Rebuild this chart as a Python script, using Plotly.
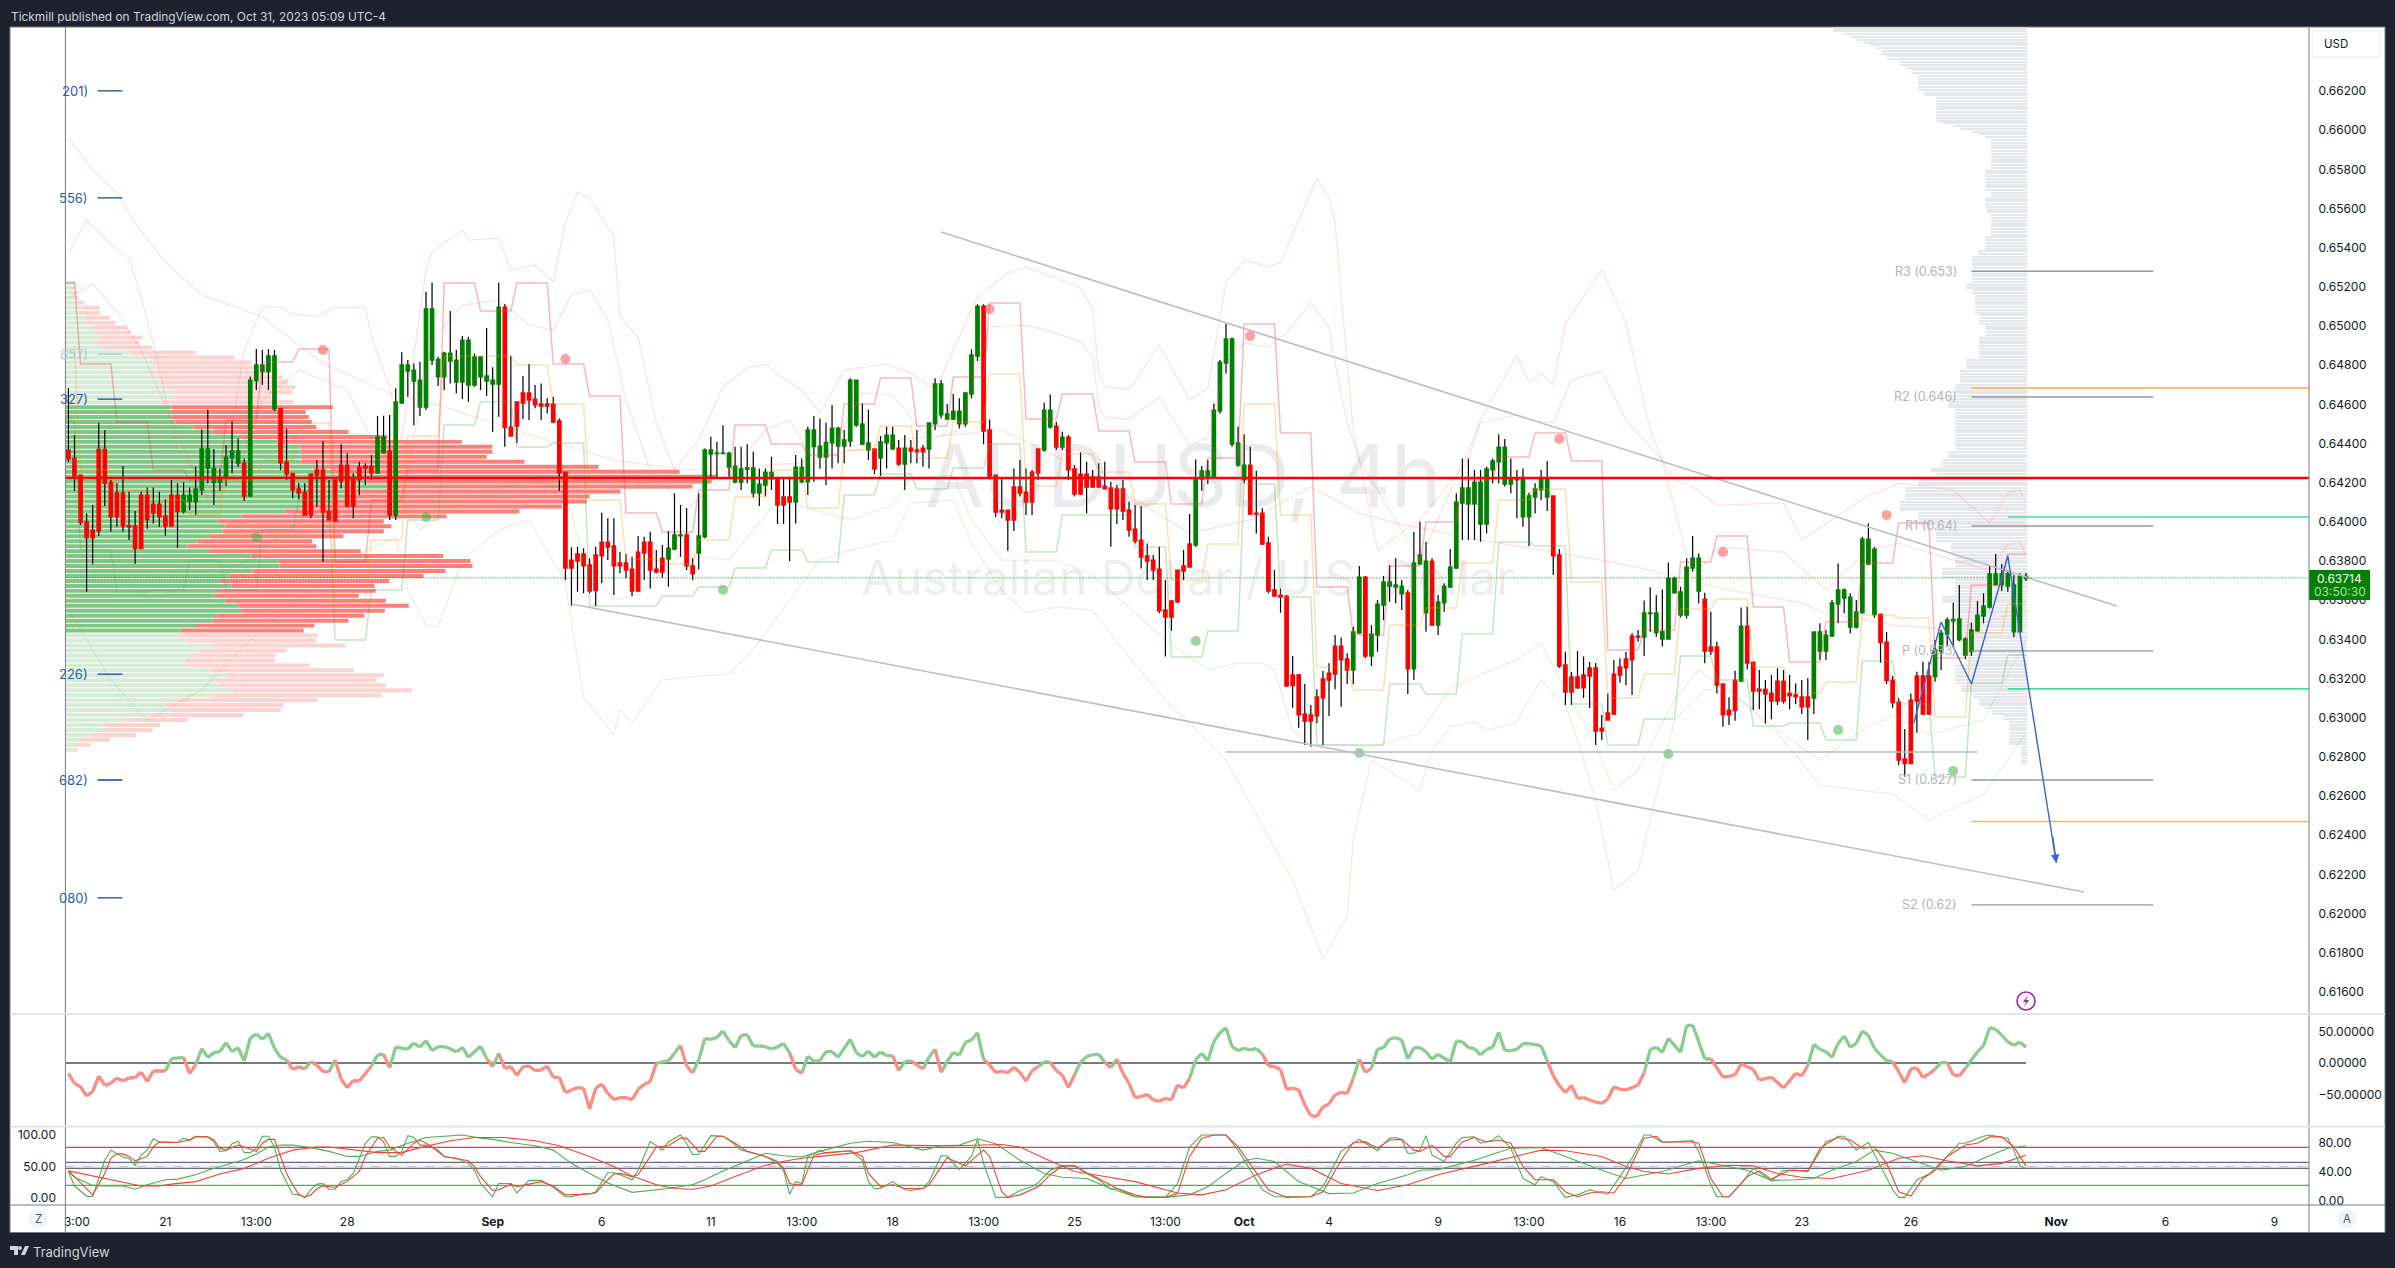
import plotly.graph_objects as go

W, H = 2395, 1268
POINT = 1e-5

# ---------------- candles, prices in points (1e-5) ----------------
candle_direction = ("r"*19 + "g"*10 + "r" + "g"*5 + "r"*16 + "g"*2 + "r" + "g"*18 + "r"*27 + "g"*3 + "r"*2 + "g"*13 + "r"*3
                    + "g"*13 + "r" + "g"*3 + "r" + "g" + "r"*3 + "g"*9 + "r"*10 + "g"*2 + "r" + "g" + "r"*21 + "g"*9 + "r"*17
                    + "g"*2 + "r" + "g"*6 + "r" + "g"*3 + "r" + "g"*19 + "r"*15 + "g"*10 + "r"*6 + "g" + "r"*11 + "g"*11 + "r"*9 + "g"*16)

body_top = [
64367,64326,64239,64000,63958,64370,64370,64200,64147,64147,
63982,63979,64137,64137,64091,64091,64030,64137,64137,64137,
64137,64168,64372,64372,64273,64226,64331,64362,64362,64300,
64724,64801,64801,64847,64847,64580,64306,64248,64168,64152,
64244,64265,64265,64055,64214,64290,64290,64222,64280,64285,
64285,64433,64433,64362,64612,64801,64801,64775,64724,65087,
65087,64830,64862,64862,64826,64928,64928,64842,64842,64745,
64724,65097,65097,64484,64612,64658,64658,64627,64602,64602,
64602,64515,64254,63805,63836,63836,63780,63831,63897,63897,
63877,63790,63790,63759,63846,63897,63897,63759,63815,63866,
63933,63933,63933,63775,63928,64367,64367,64351,64351,64351,
64285,64270,64275,64275,64193,64254,64254,64224,64127,64127,
64280,64278,64469,64469,64387,64406,64479,64479,64418,64724,
64724,64500,64403,64372,64408,64443,64443,64377,64377,64377,
64367,64377,64505,64704,64704,64551,64566,64566,64658,64852,
65102,65102,64469,64239,64060,64060,64178,64178,64152,64254,
64372,64571,64571,64489,64433,64433,64270,64244,64244,64229,
64229,64183,64173,64168,64168,64060,63963,63907,63826,63805,
63759,63550,63596,63754,63775,63887,64224,64260,64260,64571,
64816,64934,64934,64403,64290,64290,64045,64045,63892,63652,
63626,63621,63218,63218,63019,63014,63106,63198,63228,63366,
63366,63300,63438,63718,63718,63427,63580,63693,63693,63678,
63672,63637,63790,63831,63800,63800,63591,63672,63769,64101,
64173,64173,64203,64203,64270,64311,64382,64382,64224,64224,
64224,64132,64168,64224,64224,64132,63831,63269,63208,63208,
63218,63254,63254,62947,63024,63223,63259,63300,63417,63417,
63535,63535,63535,63439,63713,63713,63642,63769,63815,63815,
63606,63361,63361,63172,63039,63192,63468,63468,63284,63146,
63146,63126,63187,63187,63126,63116,63106,63106,63438,63438,
63422,63586,63652,63652,63616,63540,63912,63912,63861,63529,
63386,63192,63080,62789,63090,63213,63213,63213,63346,63432,
63499,63502,63504,63402,63448,63524,63570,63734,63734,63734,
63734,63678,63723,63723]

body_bottom = [
64321,64234,63996,63919,63919,63953,64197,64026,64026,63979,
63975,63863,63863,64011,64045,64026,63979,63979,64052,64052,
64103,64103,64163,64273,64200,64200,64224,64326,64297,64132,
64132,64721,64767,64767,64576,64302,64244,64163,64147,64035,
64035,64239,64050,64009,64004,64209,64081,64081,64214,64275,
64249,64249,64353,64035,64035,64607,64770,64719,64586,64586,
64826,64740,64740,64821,64714,64714,64699,64699,64740,64719,
64704,64704,64481,64438,64489,64607,64622,64597,64591,64591,
64510,64249,63764,63764,63800,63775,63647,63649,63826,63871,
63775,63775,63754,63647,63647,63841,63754,63744,63744,63810,
63861,63928,63775,63734,63841,63923,64346,64348,64348,64280,
64203,64203,64268,64147,64147,64188,64220,64086,64086,64101,
64101,64205,64205,64384,64331,64331,64403,64387,64387,64413,
64494,64397,64367,64270,64326,64403,64372,64295,64295,64362,
64357,64357,64372,64500,64546,64525,64525,64500,64500,64653,
64847,64464,64234,64050,64050,64009,64009,64147,64101,64101,
64249,64367,64484,64382,64382,64265,64142,64142,64178,64178,
64178,64168,64066,64066,64055,63958,63902,63820,63800,63754,
63545,63514,63514,63591,63749,63769,63882,64219,64224,64224,
64566,64811,64397,64290,64214,64040,64040,63887,63647,63621,
63616,63162,63164,63015,62983,62983,63009,63101,63192,63223,
63295,63243,63243,63432,63315,63315,63422,63575,63672,63667,
63632,63249,63249,63785,63535,63473,63473,63586,63667,63764,
64096,64091,64091,63989,63989,64265,64306,64193,64193,64214,
64025,64025,64127,64163,64127,63826,63264,63131,63131,63152,
63152,63213,62932,62932,62988,63019,63218,63254,63295,63412,
63412,63531,63434,63402,63402,63637,63524,63524,63764,63647,
63340,63340,63167,63015,63015,63036,63187,63279,63136,63136,
63121,63085,63085,63085,63111,63106,63055,63055,63100,63340,
63340,63417,63580,63611,63463,63463,63535,63785,63526,63383,
63189,63077,62784,62765,62765,63085,63019,63019,63208,63340,
63427,63495,63397,63320,63337,63443,63519,63565,63678,63678,
63672,63438,63438,63710]

wick_high = [
64682,64443,64239,64043,64086,64506,64469,64214,64197,64285,
64154,64055,64154,64176,64176,64154,64115,64214,64197,64202,
64176,64282,64472,64574,64372,64273,64392,64513,64426,64324,
64741,64883,64877,64881,64877,64580,64477,64248,64197,64197,
64244,64316,64413,64214,64214,64396,64350,64248,64307,64299,
64341,64540,64542,64546,64682,64866,64826,64809,64818,65175,
65221,64843,64869,65077,64877,64949,64945,64860,64843,64990,
64789,65221,65112,64847,64614,64745,64806,64699,64707,64631,
64639,64528,64254,63870,63873,63865,63814,63873,64047,64018,
64018,63848,63836,63822,63928,63924,63950,63856,63882,63953,
64146,64086,64069,63814,64146,64375,64435,64409,64494,64358,
64384,64384,64396,64358,64273,64273,64333,64231,64231,64231,
64341,64324,64486,64540,64528,64506,64597,64486,64469,64733,
64724,64605,64574,64372,64438,64486,64486,64418,64443,64418,
64469,64392,64505,64733,64724,64602,64653,64631,64660,64881,
65111,65111,64523,64239,64222,64060,64273,64316,64273,64265,
64372,64608,64651,64511,64460,64443,64290,64355,64307,64265,
64299,64307,64205,64188,64214,64103,64086,64081,63890,63831,
63873,63703,63601,63754,63856,64040,64319,64285,64316,64605,
64826,65010,64942,64486,64447,64384,64261,64069,63924,63754,
63660,63626,63315,63223,63172,63065,63145,63238,63278,63422,
63410,63329,63465,63775,63723,63473,63601,63723,63780,63814,
63703,63652,63948,64001,63899,63814,63626,63686,63861,64146,
64324,64324,64265,64265,64282,64324,64448,64423,64324,64265,
64273,64149,64197,64265,64311,64132,63861,63337,63233,63340,
63312,63284,63279,63014,63124,63295,63303,63337,63431,63448,
63598,63666,63626,63655,63793,63720,63669,63814,63928,63839,
63638,63541,63388,63172,63104,63240,63563,63567,63284,63243,
63192,63218,63252,63243,63218,63175,63192,63201,63438,63482,
63448,63601,63788,63660,63635,63601,63924,63992,63873,63529,
63438,63213,63099,62942,63124,63235,63286,63286,63397,63448,
63512,63587,63677,63410,63485,63596,63635,63780,63836,63785,
63754,63729,63737,63739]

wick_low = [
64307,64159,63984,63643,63783,63928,64081,63950,63975,63950,
63907,63785,63861,63965,63992,63975,63929,63979,63868,64043,
64060,64035,64137,64197,64086,64159,64183,64248,64282,64108,
64129,64673,64699,64673,64566,64265,64214,64120,64115,64035,
64018,64077,63797,64009,64001,64171,64077,64018,64137,64188,
64214,64248,64350,64009,64009,64605,64639,64494,64540,64571,
64801,64694,64673,64707,64656,64627,64614,64690,64673,64643,
64460,64537,64384,64438,64401,64525,64520,64580,64520,64554,
64503,64157,63703,63570,63643,63635,63635,63570,63686,63805,
63626,63737,63712,63621,63643,63703,63660,63737,63715,63669,
63856,63822,63754,63703,63757,63916,64231,64231,64350,64231,
64197,64163,64197,64125,64081,64129,64163,63989,63989,63800,
63992,64197,64137,64205,64272,64188,64273,64299,64299,64384,
64486,64392,64316,64244,64234,64273,64372,64285,64163,64299,
64299,64282,64273,64469,64528,64523,64520,64477,64486,64631,
64821,64397,64217,64023,64018,63853,63953,64129,64035,64035,
64214,64358,64477,64367,64367,64214,64129,64137,64043,64176,
64176,64166,63873,63989,64009,63924,63890,63762,63703,63703,
63533,63312,63444,63584,63703,63768,63873,64159,64193,64222,
64554,64758,64384,64282,64197,64035,63941,63882,63635,63618,
63536,63158,63051,62949,62861,62852,62971,62861,63009,63145,
63056,63172,63172,63431,63305,63264,63337,63499,63592,63584,
63550,63121,63192,63785,63439,63468,63422,63541,63666,63762,
63907,63907,63907,63899,63941,64197,64197,64180,64146,64018,
63975,63877,64043,64111,64055,63729,63254,63065,63065,63148,
63101,63049,62861,62886,62988,63014,63179,63167,63116,63388,
63315,63439,63414,63363,63400,63635,63512,63507,63746,63584,
63278,63320,63124,62954,62963,62985,63182,63247,63039,63043,
62971,62992,63065,63073,63043,63070,63019,62886,63019,63295,
63295,63414,63482,63533,63431,63456,63533,63780,63511,63281,
63172,63051,62757,62699,62763,62923,63014,63014,63184,63243,
63363,63363,63391,63298,63315,63439,63482,63558,63678,63647,
63643,63412,63438,63698]

# ---------------- daily levels ----------------
level_start = list(range(-4, 321, 6))
level_high = [65220,64806,64510,64265,64214,64520,64816,64883,63795,64112,64265,65220,65077,65220,64806,64643,64045,63948,64163,64495,64398,64341,64602,64735,64489,64740,65118,64525,64653,64464,64306,64091,64326,65010,64454,63667,63422,63775,63999,64214,64331,64454,64311,63346,63448,63795,63928,63565,63284,63489,63790,63994,63305,63678,63836]
level_mid = [64878,64265,64163,64112,64040,64214,64316,64505,63601,63907,64438,64847,64847,64801,64602,64112,63810,63785,63907,64127,64265,64071,64367,64489,64326,64510,64755,64183,64347,64255,64091,63703,63887,64602,64035,63259,63142,63473,63560,63790,64112,64168,63693,63101,63223,63555,63606,63259,63126,63182,63524,63509,63004,63433,63581]
level_low = [64520,63856,63642,63652,63805,63652,63958,64112,63397,63652,64010,64495,64612,64382,64403,63570,63570,63621,63667,63764,63856,63795,64137,64244,64168,64275,64398,63846,64035,64035,63872,63310,63443,64193,63616,62861,62861,63172,63121,63427,63897,63877,63070,62861,62993,63315,63193,62958,62973,62886,63290,63070,62697,63177,63320]

# ---------------- bands ----------------
band1_bar = [0,3,8,10,12,14,18,25,29,32,35,37,41,44,49,50,53,55,59,60,65,66,71,73,77,80,82,84,86,90,91,94,97,100,104,108,112,115,118,121,124,128,135,139,143,150,155,158,163,167,169,170,171,175,180,185,188,191,194,198,200,206,208,209,211,212,216,223,231,233,239,241,243,245,247,253,257,261,263,265,268,272,283,286,296,302,311,317,320,322,323]
band1_pts = [65373,65541,65388,65347,65148,64913,64367,64112,64878,65097,65097,65061,65051,65097,65092,64944,64689,64418,65286,65378,65490,65439,65449,65286,65312,65225,65526,65684,65654,65455,65046,64944,64505,64265,64418,64689,64786,64806,64735,64673,64556,64775,64806,64760,64673,65148,65271,65301,65245,65194,65082,64760,64689,64678,64903,64622,64684,65220,65337,65301,65327,65756,65654,65526,64811,64469,63856,64010,64316,64520,64852,64714,64760,64699,65015,65286,65015,64469,64316,64214,64178,64086,64096,63907,64117,64198,64163,63994,64148,64163,64096]
band2_bar = [0,4,8,12,17,23,28,32,38,46,51,56,60,65,71,76,80,83,86,89,92,96,102,111,115,119,124,131,136,142,147,152,158,163,167,169,170,171,175,180,185,188,191,194,198,201,205,208,209,211,213,223,233,239,241,245,248,253,257,263,268,272,283,290,297,302,311,317,320,322,323]
band2_pts = [65143,65215,65072,64878,64520,64112,64265,64622,64775,64673,64367,64265,64929,65107,65133,65005,64980,65158,65184,65031,64622,64265,64061,64316,64469,64520,64265,64658,64648,64418,64469,64995,65005,64964,64918,64842,64587,64535,64525,64638,64392,64433,64811,64913,64893,64964,65118,64995,64811,64505,64316,63805,64505,64546,64520,64505,64724,64770,64520,64316,63703,63872,63846,63652,63856,63892,63805,63754,63882,63897,63831]
basis_bar = [0,4,8,11,16,22,32,42,53,61,79,90,102,121,137,154,170,185,195,205,213,219,233,253,261,274,286,290,301,312,323]
basis_pts = [65960,65797,65679,65526,65327,65158,65046,64811,64658,64597,64418,64316,64265,64301,64418,64469,64229,63943,64010,64178,64045,63994,63907,63805,63754,63652,63586,63535,63473,63448,63550]
band3_bar = [0,7,13,22,30,38,46,54,58,65,76,82,85,90,94,101,109,117,123,129,136,139,146,149,154,163,169,181,188,193,197,199,202,205,211,215,223,228,232,234,239,243,247,252,255,259,265,269,276,282,289,296,301,307,316,323]
band3_pts = [64010,63805,63601,63703,63805,64010,64112,64163,63958,64112,64214,64163,63805,63601,63627,63831,63805,64112,64061,64010,64086,64224,64239,64010,63805,63805,63729,63397,63244,63279,63279,63244,62937,62861,62861,62850,62922,63152,63203,63234,63295,63382,63142,62861,62631,62733,63090,63244,63090,62937,62784,62937,63014,62912,62988,63397]
band4_bar = [0,7,13,22,30,38,46,54,56,59,61,65,71,76,82,85,90,91,93,98,104,109,113,119,124,129,136,139,146,149,154,158,163,169,174,181,191,202,207,211,212,215,223,225,228,232,234,239,240,243,247,249,252,255,259,265,270,274,283,289,301,307,316,323]
band4_pts = [63550,63193,62988,63142,63397,63601,63805,63923,63652,63473,63463,63805,63958,64010,63688,63106,62912,63039,62978,63193,63213,63223,63346,63601,63805,63856,63907,64096,64112,63892,63652,63535,63565,63550,63346,63090,62784,62171,61768,61988,62376,62784,62631,62835,62953,62978,62937,62978,63039,63193,63065,62886,62580,62120,62222,62988,63142,63142,62886,62656,62610,62478,62610,62922]

# ---------------- markers ----------------
dot_red_bar = [42,82,152,195,246,300,273]
dot_red_pts = [64878,64832,65087,64949,64423,64035,63846]
dot_green_bar = [31,59,108,186,213,264,292,311]
dot_green_pts = [63923,64025,63652,63392,62820,62815,62937,62728]

# ---------------- volume profile, left (arbitrary volume units) ----------------
profile_up = [16,19,21,23,21,31,26,36,39,56,57,66,58,73,126,161,172,178,168,181,187,196,214,214,187,
208,207,208,216,251,288,344,416,461,461,461,461,484,521,571,591,631,571,551,521,481,431,345,298,314,308,281,259,239,281,365,417,420,367,320,303,326,301,291,312,339,345,296,288,258,226,
223,238,289,261,246,233,243,284,315,294,300,327,288,218,193,204,163,116,76,73,53,27,23,16]
profile_down = [2,2,2,3,15,36,41,51,59,66,71,85,87,96,129,171,193,193,233,245,250,255,231,189,260,
316,264,269,267,241,267,287,361,376,376,365,439,561,683,708,676,598,517,476,501,492,459,402,326,325,316,264,225,253,298,376,377,378,378,382,332,280,307,284,316,334,281,290,267,230,241,
271,254,260,173,166,177,236,281,309,316,328,352,332,276,235,218,186,123,109,98,85,60,26,8]
PROFILE_TOP = 0.65220
PROFILE_STEP = 0.0002536
VALUE_AREA = range(25, 71)

# ---------------- volume profile, right ----------------
profile_visible = [194,194,183,176,170,164,158,152,146,146,140,140,127,127,121,115,115,109,109,109,109,109,109,103,103,91,91,
91,91,91,91,91,91,91,85,74,67,55,49,42,36,36,36,36,36,36,36,36,36,36,36,42,42,42,42,42,42,42,42,36,36,42,42,42,42,40,40,36,
36,36,36,36,36,36,36,42,42,42,42,42,49,49,55,55,55,55,55,55,55,55,55,55,61,61,55,55,52,52,52,52,52,52,52,48,48,48,48,42,42,42,42,48,48,48,48,48,48,48,48,
61,61,61,61,67,67,67,67,67,72,72,72,72,79,79,79,79,79,72,72,72,72,72,72,72,72,72,72,72,72,72,72,72,79,79,79,85,85,85,96,96,90,90,109,109,109,
122,122,122,122,122,127,127,127,127,109,109,109,109,109,91,91,91,91,91,91,76,76,76,76,76,72,72,72,72,85,85,85,85,72,72,72,72,72,72,85,85,85,
72,72,72,72,72,72,72,72,66,66,66,66,66,66,66,66,66,66,66,60,60,60,72,72,72,72,72,72,72,66,66,66,54,54,48,48,48,42,35,35,24,24,
18,18,18,18,18,18,18,18,18,6,6,6,6,6,6,6]
VISIBLE_TOP = 0.66520
VISIBLE_STEP = 0.0001422

# ---------------- CCI ----------------
cci_bar = [0,1,2,3,4,5,6,7,8,9,10,11,12,13,14,16,17,19,20,21,22,23,24,25,26,27,28,29,30,31,32,33,34,35,36,37,38,39,40,41,42,43,44,45,46,47,48,50,51,52,53,54,56,57,58,59,60,61,62,63,64,65,66,68,69,70,71,72,73,74,75,76,77,78,79,80,81,82,83,84,85,86,87,88,89,90,91,92,93,94,95,96,97,99,100,101,102,103,104,105,106,107,108,109,110,111,112,113,114,115,116,117,118,119,120,
121,122,123,124,125,126,127,129,130,131,132,133,134,135,136,137,138,139,141,142,143,144,145,146,147,148,149,150,151,152,153,154,155,156,157,158,159,160,161,162,163,164,165,166,167,168,169,170,171,172,173,174,175,176,177,178,179,180,181,182,183,184,185,186,187,188,189,190,191,192,193,194,195,196,197,198,199,200,201,202,203,204,205,206,207,208,209,210,211,212,213,214,215,216,217,218,219,220,221,222,223,224,225,226,228,229,230,231,232,233,234,235,236,237,238,239,240,241,242,243,244,245,246,247,248,249,250,251,252,
253,254,255,256,257,258,259,260,261,262,263,264,266,267,268,269,270,271,273,274,275,276,277,278,279,280,281,283,285,286,287,288,289,290,291,292,293,294,295,296,297,298,299,300,301,302,303,304,305,306,307,308,309,310,311,312,313,314,315,316,317,318,319,320,321,322,323]
cci_value = [-16.4,-32.3,-37.6,-52.4,-45.5,-20.6,-35.4,-32.3,-23.8,-28.6,-23.8,-23.3,-14.3,-29.6,-12.7,-12.7,6.9,9.0,-16.9,-2.6,22.7,9.0,16.4,18.0,32.3,18.0,24.3,3.2,39.7,46.0,37.6,47.1,23.3,9.0,4.8,-10.1,-5.8,-9.5,2.1,-3.2,-13.8,-13.8,4.8,-25.9,-39.1,-28.0,-28.6,-4.8,12.7,13.8,-7.4,25.4,22.2,31.7,25.4,35.4,19.6,25.9,25.9,22.7,17.5,24.9,9.0,26.5,7.4,-5.8,15.3,-8.5,-5.8,-19.6,-5.8,-4.8,-12.2,-11.1,-4.8,-22.7,-22.7,-47.1,-42.8,-39.1,-40.2,-73.0,-40.2,-33.3,-48.1,-58.2,-55.0,-55.0,-58.2,-41.8,-33.9,-29.6,-0.5,3.7,15.3,28.0,-4.8,-15.9,4.8,38.6,37.6,40.7,50.8,35.4,24.3,43.9,45.0,27.0,27.0,25.9,22.2,25.4,31.2,16.4,-10.1,
-16.4,11.1,2.6,3.7,18.0,18.0,9.0,37.6,16.4,10.1,19.0,9.0,17.5,11.6,11.6,-12.2,2.1,3.2,-9.5,9.0,21.7,-14.8,2.6,16.9,12.2,32.8,36.5,48.1,5.8,-3.2,-15.3,-12.7,-15.3,-6.9,-14.8,-28.6,-12.2,-5.8,2.1,1.1,-12.2,-19.0,-39.1,-19.0,1.1,10.1,13.2,13.8,1.1,-7.4,6.3,-16.4,-32.3,-55.0,-53.4,-49.7,-58.7,-60.8,-56.1,-58.7,-34.9,-39.7,-24.3,4.8,15.3,3.7,33.9,48.1,56.1,25.9,19.6,23.3,20.6,23.3,14.3,-4.2,-5.8,-10.1,-41.8,-39.7,-42.8,-66.7,-83.6,-85.2,-69.3,-65.0,-50.3,-46.6,-48.1,-24.3,5.8,-14.8,-8.5,22.2,24.3,38.1,40.2,36.5,6.3,24.3,24.3,18.0,5.8,13.8,1.6,34.9,33.9,24.3,22.7,12.7,21.7,24.9,48.7,19.6,19.6,21.7,30.7,30.7,29.1,27.0,3.2,-20.1,-36.0,-47.1,-35.4,-56.1,-55.0,-58.7,-61.9,
-64.0,-57.1,-37.6,-41.8,-42.8,-39.1,-34.9,-15.3,21.7,24.9,16.9,39.1,16.9,59.2,60.3,33.9,6.3,6.9,-22.2,-21.2,-18.5,-1.6,-5.8,-10.1,-27.0,-24.9,-22.2,-39.7,-16.4,-20.6,-4.2,29.6,21.7,18.0,9.0,31.2,42.8,24.9,31.2,50.8,43.9,23.3,12.7,3.7,2.1,-13.8,-31.2,-9.5,-7.9,-22.7,-17.5,-9.5,0.5,0.5,-19.0,-20.6,-8.5,4.8,18.0,27.5,56.1,53.4,44.4,33.3,28.0,33.3,24.9]

# ---------------- stochastic RSI pairs ----------------
fast_k_bar = [0,1,3,4,6,7,9,10,11,12,13,14,15,17,18,19,20,21,23,24,25,26,27,28,29,30,31,32,33,34,35,37,38,39,40,41,42,43,44,45,46,47,49,50,51,52,53,54,55,56,57,58,59,61,62,64,66,67,68,70,71,73,74,76,78,80,82,83,85,86,87,89,90,91,93,94,96,98,99,101,102,103,104,106,108,109,111,112,115,117,118,119,120,
121,122,124,125,129,131,132,133,134,136,138,139,141,142,144,145,146,147,149,150,151,153,155,157,159,160,162,164,166,168,170,172,173,176,181,183,185,187,191,193,197,199,205,207,210,213,216,218,219,220,221,222,223,224,225,227,229,230,232,233,235,236,238,240,242,243,245,247,249,251,
253,254,256,258,260,261,263,265,268,269,271,272,274,276,278,280,281,283,285,287,289,291,292,293,295,297,299,301,302,303,305,307,310,312,313,316,317,320,321,322,323]
fast_k = [42,19,3,2,60,76,65,63,52,68,76,94,89,88,88,95,92,98,97,89,74,75,86,90,72,72,79,98,98,81,44,6,5,1,13,22,23,14,14,26,29,39,87,97,97,89,66,66,74,99,96,84,84,76,66,63,55,44,23,2,23,23,8,28,28,17,2,2,7,6,10,40,40,37,29,44,90,76,89,100,87,69,69,99,98,92,76,74,66,55,44,6,26,
23,66,76,71,75,60,26,15,15,26,13,12,15,26,67,67,55,45,66,93,55,1,1,12,18,24,44,51,51,39,29,14,15,2,1,23,81,100,100,76,13,2,2,18,74,93,75,95,96,93,71,71,76,99,68,58,87,96,97,87,92,99,79,31,21,34,26,1,5,13,
8,6,34,63,100,100,88,89,91,74,21,2,2,23,47,34,27,44,44,42,79,91,98,98,76,88,50,13,1,1,29,38,66,87,87,98,100,95,76,51,47]
fast_d_bar = [0,1,4,6,7,8,9,10,11,13,14,15,18,20,21,23,24,25,26,28,29,31,32,33,34,35,36,37,38,39,40,41,42,44,46,48,49,51,52,53,55,57,58,59,60,62,64,66,67,68,70,71,73,74,76,78,80,82,85,87,89,90,91,93,94,96,97,99,101,102,104,105,107,108,110,112,115,117,118,119,120,
121,123,125,129,131,132,134,136,138,141,142,144,145,147,148,150,151,152,154,155,157,160,162,164,166,168,170,173,176,178,181,183,185,187,189,191,193,198,201,205,207,210,212,214,216,218,220,222,223,225,227,228,230,232,234,236,238,240,242,245,247,249,251,
253,255,257,259,260,262,263,268,269,271,273,274,277,279,281,284,287,290,292,294,296,298,300,302,304,306,308,310,313,315,317,319,321,323]
fast_d = [43,34,5,39,63,70,70,66,59,66,81,89,88,92,97,97,92,79,76,84,81,74,87,93,93,66,39,21,6,1,5,15,19,17,26,42,66,95,96,81,68,87,92,87,81,66,63,59,50,34,12,13,22,18,22,26,19,5,6,8,29,38,39,34,37,66,81,83,95,95,74,74,98,98,87,74,66,58,47,23,21,
21,68,72,75,66,39,18,21,15,15,21,50,64,55,51,68,76,66,10,1,5,18,37,51,51,40,31,15,5,1,1,7,66,95,100,100,81,13,1,2,10,60,88,89,79,92,93,76,74,84,66,66,89,96,89,92,87,50,29,29,10,2,8,
10,8,34,74,95,98,89,89,87,31,2,2,34,43,30,44,43,89,96,92,79,81,55,10,3,31,44,66,84,87,97,97,81,51]
slow_k_bar = [0,1,4,6,9,11,13,16,18,21,23,26,29,31,33,35,37,40,43,46,48,51,53,56,59,62,65,68,70,73,77,80,83,86,89,93,96,99,103,105,108,111,115,118,
121,124,129,132,136,141,144,147,150,153,157,161,164,168,172,176,181,185,188,191,194,196,199,203,208,212,216,221,223,226,232,238,243,247,
253,257,263,269,273,277,281,285,288,291,295,298,301,305,309,313,316,320,323]
slow_k = [42,33,20,19,19,14,21,29,30,37,44,52,61,70,81,84,84,80,74,66,66,74,76,87,96,98,100,95,93,88,83,76,55,39,24,9,12,15,21,29,43,55,71,67,
65,74,87,90,88,76,83,84,94,86,60,39,33,31,15,2,1,5,18,39,59,63,58,26,7,8,23,37,44,45,60,79,80,66,
44,31,42,59,51,44,28,29,31,44,58,76,71,58,44,50,63,79,83]
slow_d_bar = [0,2,6,9,12,15,17,21,25,29,33,37,41,43,48,51,55,58,63,67,72,77,81,86,90,93,97,100,103,106,110,115,119,
121,126,130,136,141,146,154,157,161,166,171,176,183,187,191,196,201,205,210,216,221,226,234,243,247,
253,257,260,264,269,274,278,282,286,291,297,302,306,310,315,319,323]
slow_d = [43,39,31,24,19,19,22,26,38,47,63,76,81,81,76,72,72,80,91,96,96,91,83,66,50,35,21,15,14,19,34,52,60,
63,68,72,84,83,83,85,81,63,42,34,26,8,5,13,37,54,47,23,12,21,37,55,76,75,
66,50,42,38,47,52,51,39,33,31,44,63,67,59,51,55,68]

# ---------------- levels and drawings ----------------
overbought, mid_upper, mid_line, mid_lower, oversold = 80.4, 56.6, 50, 47, 20
profile_level = 0.64224
last_price = 0.63714
level_label_names = ["R3 (0.653)", "R2 (0.646)", "R1 (0.64)", "P (0.633)", "S1 (0.627)", "S2 (0.62)"]
level_label_prices = [0.65280, 0.64638, 0.63979, 0.63341, 0.62682, 0.62044]
orange_levels = [0.64684, 0.62470]
teal_levels = [0.64025, 0.63147]
fib_texts = ["201)", "556)", "857)", "327)", "226)", "682)", "080)"]
fib_prices = [0.66201, 0.65654, 0.64857, 0.64627, 0.63223, 0.62682, 0.62080]
upper_trend_bar, upper_trend = [144, 338], [0.65480, 0.63570]
lower_trend_bar, lower_trend = [83, 332.6], [0.63581, 0.62110]
flat_line_bar, flat_line = [191, 315], [0.62825, 0.62825]
zigzag_bar = [304.5, 309, 314, 320, 328]
zigzag = [0.62973, 0.63489, 0.63172, 0.63826, 0.62258]

price_ticks = [0.616 + 0.002 * i for i in range(24)]
time_tick_bar = [1.4,16,31,46,70,88,106,121,136,151,166,181,194,208,226,241,256,271,286,304,328,346,364]
time_tick_text = ["3:00","21","13:00","28","<b>Sep</b>","6","11","13:00","18","13:00","25","13:00","<b>Oct</b>","4","9","13:00","16","13:00","23","26","<b>Nov</b>","6","9"]

# ---------------- build ----------------
n = len(candle_direction)
bars = list(range(n))
open_ = [(t if d == "r" else b) * POINT for t, b, d in zip(body_top, body_bottom, candle_direction)]
close = [(b if d == "r" else t) * POINT for t, b, d in zip(body_top, body_bottom, candle_direction)]
high = [v * POINT for v in wick_high]
low = [v * POINT for v in wick_low]
body_mid = [(a + b) / 2 for a, b in zip(open_, close)]
FONT = "Inter, Roboto, sans-serif"
RIGHT_END = 369.7

fig = go.Figure()
# left profile
rows = [PROFILE_TOP - i * PROFILE_STEP for i in range(len(profile_up))]
VOL = 1 / 11.88
strong = [i in VALUE_AREA for i in range(len(rows))]
fig.add_trace(go.Bar(orientation="h", y=rows, x=[v * VOL for v in profile_up], base=-0.5, width=PROFILE_STEP * 0.8,
                     marker=dict(color=["#81c784" if s else "#d6ecd7" for s in strong], line_width=0), hoverinfo="skip"))
fig.add_trace(go.Bar(orientation="h", y=rows, x=[v * VOL for v in profile_down], base=[-0.5 + v * VOL for v in profile_up], width=PROFILE_STEP * 0.8,
                     marker=dict(color=["#fb8078" if s else "#fdd3d0" for s in strong], line_width=0), hoverinfo="skip"))
# right profile
vrows = [VISIBLE_TOP - i * VISIBLE_STEP for i in range(len(profile_visible))]
fig.add_trace(go.Bar(orientation="h", y=vrows, x=[v / 6.06 for v in profile_visible], base=[323.2 - v / 6.06 for v in profile_visible],
                     width=VISIBLE_STEP * 0.55, marker=dict(color="#e6e7ea", line_width=0), hoverinfo="skip"))
# wicks (box collapsed to a point inside the body), then bodies on top
fig.add_trace(go.Candlestick(x=bars, open=body_mid, high=high, low=low, close=body_mid, hoverinfo="skip", whiskerwidth=0,
                             increasing=dict(line=dict(color="#000000", width=1.2), fillcolor="#000000"),
                             decreasing=dict(line=dict(color="#000000", width=1.2), fillcolor="#000000")))
fig.add_trace(go.Candlestick(x=bars, open=open_, close=close, high=[max(a, b) for a, b in zip(open_, close)], low=[min(a, b) for a, b in zip(open_, close)],
                             hoverinfo="skip", whiskerwidth=0,
                             increasing=dict(line=dict(color="#008000", width=1.3), fillcolor="#008000"),
                             decreasing=dict(line=dict(color="#ff0000", width=1.3), fillcolor="#ff0000")))

def line(x, y, color, width=1, dash=None, xa="x", ya="y"):
    fig.add_trace(go.Scatter(x=x, y=y, mode="lines", xaxis=xa, yaxis=ya, hoverinfo="skip",
                             line=dict(color=color, width=width, dash=dash), connectgaps=False))

BAND_RED = "rgba(255,82,82,0.18)"
BAND_GREEN = "rgba(76,175,80,0.16)"
for b, p, c in [(band1_bar, band1_pts, BAND_RED), (band2_bar, band2_pts, BAND_RED), (basis_bar, basis_pts, BAND_RED),
                (band3_bar, band3_pts, BAND_GREEN), (band4_bar, band4_pts, BAND_GREEN)]:
    line(b, [v * POINT for v in p], c, 1.2)

def steps(levels):
    xs, ys = [], []
    for s, l in zip(level_start, levels):
        xs += [max(s, -0.5), min(s + 5, 323)]
        ys += [l * POINT, l * POINT]
    return xs, ys

for lv, c in [(level_high, "rgba(242,54,69,0.35)"), (level_mid, "rgba(255,152,0,0.3)"), (level_low, "rgba(76,175,80,0.32)")]:
    xs, ys = steps(lv)
    line(xs, ys, c, 1.5)

fig.add_trace(go.Scatter(x=dot_red_bar, y=[v * POINT for v in dot_red_pts], mode="markers", hoverinfo="skip",
                         marker=dict(color="rgba(255,82,82,0.55)", size=10, line_width=0)))
fig.add_trace(go.Scatter(x=dot_green_bar, y=[v * POINT for v in dot_green_pts], mode="markers", hoverinfo="skip",
                         marker=dict(color="rgba(76,175,80,0.55)", size=10, line_width=0)))

line(upper_trend_bar, upper_trend, "#bcbdc6", 1.6)
line(lower_trend_bar, lower_trend, "#bcbdc6", 1.6)
line(flat_line_bar, flat_line, "#b8b9c0", 1.4)
line([-0.5, RIGHT_END], [last_price, last_price], "#008000", 1, "1px,2px")
line([-0.5, RIGHT_END], [profile_level, profile_level], "#ff0000", 2.6)
for v in orange_levels:
    line([314, RIGHT_END], [v, v], "#ffb74d", 1.6)
for v in teal_levels:
    line([320, RIGHT_END], [v, v], "#3fe09c", 1.6)
for v in level_label_prices:
    line([314, 344], [v, v], "#9598a1", 1.4)
for v, t in zip(fib_prices, fib_texts):
    line([4.8, 8.9], [v, v], "#a9c6d6" if t == "857)" else "#0d47a1", 1.3)
line(zigzag_bar, zigzag, "#3a62d6", 1.4)

# CCI
gx, gy, rx, ry = [], [], [], []
for i in range(len(cci_bar) - 1):
    seg_x = [cci_bar[i], cci_bar[i + 1], None]
    seg_y = [cci_value[i], cci_value[i + 1], None]
    if cci_value[i + 1] >= 0:
        gx += seg_x; gy += seg_y
    else:
        rx += seg_x; ry += seg_y
line([-0.5, 323], [0, 0], "#787b86", 2, xa="x2", ya="y2")
line(gx, gy, "#89cc8f", 3.3, xa="x2", ya="y2")
line(rx, ry, "#fc8d85", 3.3, xa="x2", ya="y2")

# stochastic
fig.add_trace(go.Scatter(x=[-0.5, RIGHT_END, RIGHT_END, -0.5], y=[mid_lower, mid_lower, mid_upper, mid_upper], fill="toself", mode="none",
                         fillcolor="#f3f2fa", xaxis="x3", yaxis="y3", hoverinfo="skip"))
line([-0.5, RIGHT_END], [overbought] * 2, "#f23645", 1.2, xa="x3", ya="y3")
line([-0.5, RIGHT_END], [oversold] * 2, "#4caf50", 1.2, xa="x3", ya="y3")
line([-0.5, RIGHT_END], [mid_upper] * 2, "#6a6d78", 1.3, xa="x3", ya="y3")
line([-0.5, RIGHT_END], [mid_lower] * 2, "#6a6d78", 1.3, xa="x3", ya="y3")
line([-0.5, RIGHT_END], [mid_line] * 2, "#c3c5cc", 1, "dash", xa="x3", ya="y3")
line(slow_k_bar, slow_k, "#4caf50", 1.1, xa="x3", ya="y3")
line(slow_d_bar, slow_d, "#f44336", 1.1, xa="x3", ya="y3")
line(fast_k_bar, fast_k, "#4caf50", 1.1, xa="x3", ya="y3")
line(fast_d_bar, fast_d, "#f44336", 1.1, xa="x3", ya="y3")
fig.add_trace(go.Scatter(x=[0, 0, 0], y=[0, 40, 80], mode="lines", line=dict(color="rgba(0,0,0,0)"), xaxis="x3", yaxis="y4", hoverinfo="skip"))

def px(x): return x / W
def py(y): return 1 - y / H

tick_font = dict(family=FONT, size=12, color="#131722")
hidden = dict(showgrid=False, zeroline=False, showline=False, range=[-0.5, RIGHT_END], showticklabels=False, ticks="")
layout_axes = dict(
    xaxis=dict(domain=[px(65.4), px(2309)], anchor="y", rangeslider=dict(visible=False), **hidden),
    xaxis2=dict(domain=[px(65.4), px(2309)], anchor="y2", matches="x", **{k: v for k, v in hidden.items() if k != "range"}),
    xaxis3=dict(domain=[px(65.4), px(2309)], anchor="y3", matches="x", showgrid=False, zeroline=False, showline=False,
                tickmode="array", tickvals=time_tick_bar, ticktext=time_tick_text, ticks="outside", ticklen=6, tickcolor="rgba(0,0,0,0)", tickfont=tick_font),
    yaxis=dict(domain=[py(1014), py(27)], anchor="x", side="right", range=[0.61487, 0.66527], showgrid=False, zeroline=False, showline=False,
               tickmode="array", tickvals=price_ticks, ticktext=[f"{v:.5f}" for v in price_ticks], ticks="outside", ticklen=6, tickcolor="rgba(0,0,0,0)", tickfont=tick_font),
    yaxis2=dict(domain=[py(1126), py(1014)], anchor="x2", side="right", range=[-100, 77.8], showgrid=False, zeroline=False, showline=False,
                tickmode="array", tickvals=[-50, 0, 50], ticktext=["\u221250.00000", "0.00000", "50.00000"], ticks="outside", ticklen=6, tickcolor="rgba(0,0,0,0)", tickfont=tick_font),
    yaxis3=dict(domain=[py(1205), py(1127)], anchor="x3", side="left", range=[-11.1, 112.7], showgrid=False, zeroline=False, showline=False,
                tickmode="array", tickvals=[0, 50, 100], ticktext=["0.00", "50.00", "100.00"], ticks="outside", ticklen=6, tickcolor="rgba(0,0,0,0)", tickfont=tick_font),
    yaxis4=dict(overlaying="y3", anchor="x3", side="right", range=[-5.5, 102], showgrid=False, zeroline=False, showline=False,
                tickmode="array", tickvals=[0, 40, 80], ticktext=["0.00", "40.00", "80.00"], ticks="outside", ticklen=6, tickcolor="rgba(0,0,0,0)", tickfont=tick_font),
)

def pline(x0, y0, x1, y1, color, width=1):
    return dict(type="line", xref="paper", yref="paper", x0=px(x0), y0=py(y0), x1=px(x1), y1=py(y1), line=dict(color=color, width=width))

def poly(points, color):
    d = "M " + " L ".join(f"{px(a):.5f},{py(b):.5f}" for a, b in points) + " Z"
    return dict(type="path", xref="paper", yref="paper", path=d, fillcolor=color, line_width=0)

def circle(cx, cy, r, fill, edge=None, width=0):
    return dict(type="circle", xref="paper", yref="paper", x0=px(cx - r), x1=px(cx + r), y0=py(cy + r), y1=py(cy - r),
                fillcolor=fill, line=dict(color=edge or fill, width=width))

shapes = [
    dict(type="rect", xref="paper", yref="paper", x0=px(10), x1=px(2385), y0=py(1232.5), y1=py(27), fillcolor="#ffffff",
         line=dict(color="#787b86", width=1), layer="below"),
    dict(type="rect", xref="paper", yref="paper", x0=px(2309), x1=px(2370), y0=py(600), y1=py(570), fillcolor="#008000", line_width=0),
    dict(type="rect", xref="paper", yref="paper", x0=px(2313), x1=px(2380.5), y0=py(57), y1=py(31), fillcolor="#ffffff",
         line=dict(color="#f0f3fa", width=1.5)),
    pline(65.4, 27, 65.4, 1232, "#787b86", 1),
    pline(2309, 27, 2309, 1232, "#787b86", 1),
    pline(10, 1014, 2385, 1014, "#e0e3eb", 2),
    pline(10, 1126.5, 2385, 1126.5, "#e0e3eb", 2),
    pline(10, 1205, 2385, 1205, "#787b86", 1),
    circle(38, 1219, 9.5, "#f0f3fa"),
    circle(2347, 1219, 9.5, "#f0f3fa"),
    circle(2026, 1001, 9, "#ffffff", "#9c27b0", 1.6),
    poly([(2028, 995), (2023, 1002), (2026, 1002), (2024, 1007), (2029, 1000), (2026, 1000)], "#9c27b0"),
    poly([(10, 1246), (18, 1246), (18, 1255), (14, 1255), (14, 1250), (10, 1250)], "#d1d4dc"),
    circle(20, 1248, 1.9, "#d1d4dc"),
    poly([(25, 1246), (29, 1246), (25, 1255), (21, 1255)], "#d1d4dc"),
]

def note(x, y, text, size=12, color="#131722", anchor="left", xref="paper", yref="paper", family=FONT):
    return dict(x=x, y=y, xref=xref, yref=yref, text=text, showarrow=False, xanchor=anchor, yanchor="middle",
                font=dict(family=family, size=size, color=color))

annotations = [
    note(px(9), py(16), "Tickmill published on TradingView.com, Oct 31, 2023 05:09 UTC-4", 11.9, "#d1d4dc"),
    note(px(31), py(1252), "TradingView", 13, "#d1d4dc"),
    note(px(2322), py(44), "USD", 11.5),
    note(px(2339.5), py(578), "0.63714", 12, "#ffffff", "center"),
    note(px(2339.5), py(591), "03:50:30", 12, "#b9dcb9", "center"),
    note(px(38), py(1219), "Z", 11.5, "#50535e", "center"),
    note(px(2347), py(1219), "A", 11.5, "#50535e", "center"),
    note(px(1183), py(476), "AUDUSD, 4h", 86, "rgba(120,123,134,0.15)", "center"),
    note(px(1187), py(577), "Australian Dollar / U.S. Dollar", 48, "rgba(120,123,134,0.15)", "center"),
]
for t, v in zip(level_label_names, level_label_prices):
    annotations.append(note(312, v, t, 12.5, "#b2b5be", "right", "x", "y"))
for t, v in zip(fib_texts, fib_prices):
    annotations.append(note(3.6, v, t, 13, "#b3cbd8" if t == "857)" else "#2a5caa", "right", "x", "y"))
annotations.append(dict(x=zigzag_bar[-1], y=zigzag[-1], ax=327.4, ay=0.6240, xref="x", yref="y", axref="x", ayref="y",
                        text="", showarrow=True, arrowhead=2, arrowsize=1.3, arrowwidth=1.3, arrowcolor="#3a62d6"))

fig.update_layout(width=W, height=H, margin=dict(l=0, r=0, t=0, b=0, pad=0, autoexpand=False), autosize=False, showlegend=False, barmode="overlay", boxgap=0.2,
                  paper_bgcolor="#1e222d", plot_bgcolor="rgba(0,0,0,0)", shapes=shapes, annotations=annotations, **layout_axes)

page_fix = ("var g=document.getElementById('{plot_id}');"
            "[g,g.parentNode,document.body,document.documentElement].forEach(function(e){"
            "e.style.height='1268px';e.style.overflow='hidden';e.style.margin='0';e.style.padding='0';});")
fig.write_html("out.html", config={"displayModeBar": False}, post_script=page_fix)
